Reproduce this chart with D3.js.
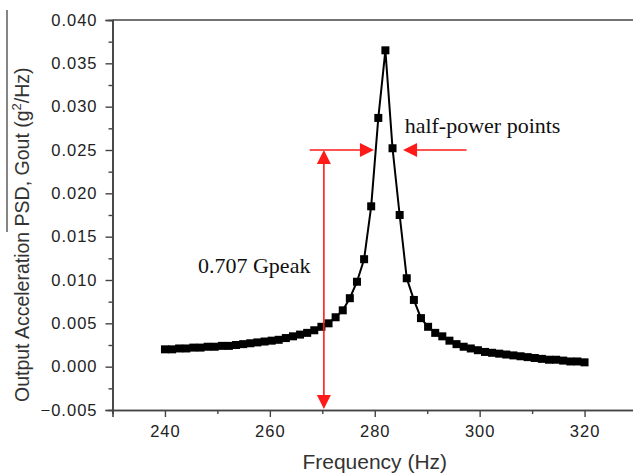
<!DOCTYPE html>
<html>
<head>
<meta charset="utf-8">
<script src="https://cdn.jsdelivr.net/npm/d3@7"></script>
<style>
  html,body{margin:0;padding:0;background:#fff;}
  svg{display:block;}
  .tick text{font-family:"Liberation Sans",Arial,sans-serif;}
</style>
</head>
<body>
<div id="chart"></div>
<script>
(() => {

  /* ---------- DATA ---------- */
  const FREQS = [
    240.00,241.36,242.71,244.07,245.42,246.78,248.14,249.49,250.85,252.20,
    253.56,254.92,256.27,257.63,258.98,260.34,261.69,263.05,264.41,265.76,
    267.12,268.47,269.83,271.19,272.54,273.90,275.25,276.61,277.97,279.32,
    280.68,282.03,283.39,284.75,286.10,287.46,288.81,290.17,291.53,292.88,
    294.24,295.59,296.95,298.31,299.66,301.02,302.37,303.73,305.08,306.44,
    307.80,309.15,310.51,311.86,313.22,314.58,315.93,317.29,318.64,320.00
  ];
  const GOUT = [
    0.0020,0.0020,0.0021,0.0021,0.0022,0.0022,0.0023,0.0023,0.0024,0.0024,
    0.0025,0.0026,0.0027,0.0028,0.0029,0.0030,0.0031,0.0033,0.0035,0.0037,
    0.0039,0.0042,0.0046,0.0050,0.0057,0.0065,0.0079,0.0098,0.0124,0.0185,
    0.0287,0.0365,0.0252,0.0175,0.0102,0.0077,0.0056,0.0046,0.0039,0.0035,
    0.0030,0.0026,0.0023,0.0021,0.0019,0.0017,0.0016,0.0015,0.0014,0.0013,
    0.0012,0.0011,0.0010,0.0009,0.0008,0.0008,0.0007,0.0006,0.0006,0.0005
  ];
  const X_TICKS = [240,260,280,300,320];
  const X_MINOR = [250,270,290,310];
  const Y_TICKS = [-0.005,0,0.005,0.010,0.015,0.020,0.025,0.030,0.035,0.040];
  const Y_MINOR = [-0.0025,0.0025,0.0075,0.0125,0.0175,0.0225,0.0275,0.0325,0.0375];

  // annotation anchors (data space)
  const HALF_LEVEL = 0.025;
  const REF_FREQ = 270.3;
  const LEFT_ARROW  = [267.6, 279.85];   // tail -> tip
  const RIGHT_ARROW = [297.5, 285.4];
  const PEAK_LABEL  = {f:246.3, v:0.0108, text:"0.707 Gpeak"};
  const HP_LABEL    = {f:285.7, v:0.0270, text:"half-power points"};

  /* ---------- LAYOUT ---------- */
  const W=633, H=475;
  const RED="#ff1a1a", AX="#444";

  const svg=d3.select("#chart").append("svg").attr("width",W).attr("height",H);

  const x=d3.scaleLinear().domain([230,330]).range([112.5,637]);
  const y=d3.scaleLinear().domain([-0.005,0.040]).range([410,20]);

  /* ---------- AXES ---------- */
  const fmt=d3.format(".3f");

  const gx=svg.append("g").attr("transform",`translate(0,${y(-0.005)})`);
  gx.call(d3.axisBottom(x).tickValues(X_TICKS).tickSize(7).tickPadding(8).tickFormat(d3.format("d")));
  svg.append("g").attr("transform",`translate(0,${y(-0.005)})`)
    .call(d3.axisBottom(x).tickValues(X_MINOR).tickSize(4).tickFormat(""));

  const gy=svg.append("g").attr("transform",`translate(${x(230)},0)`);
  gy.call(d3.axisLeft(y).tickValues(Y_TICKS).tickSize(7).tickPadding(8).tickFormat(fmt));
  svg.append("g").attr("transform",`translate(${x(230)},0)`)
    .call(d3.axisLeft(y).tickValues(Y_MINOR).tickSize(4).tickFormat(""));

  svg.selectAll(".domain").attr("stroke",AX).attr("stroke-width",1.6);
  svg.selectAll(".tick line").attr("stroke",AX).attr("stroke-width",1.4);
  svg.selectAll(".tick text").attr("fill","#222").style("font-size","16.5px")
     .style("letter-spacing","1px");

  // top frame line
  svg.append("line")
    .attr("x1",x(230)).attr("x2",W).attr("y1",y(0.040)).attr("y2",y(0.040))
    .attr("stroke",AX).attr("stroke-width",1.6);

  // axis titles
  svg.append("text")
    .attr("x",x(280)).attr("y",469).attr("text-anchor","middle")
    .attr("fill","#333").style("font-family","'Liberation Sans',Arial,sans-serif")
    .style("font-size","21px").text("Frequency (Hz)");

  const yl=svg.append("text")
    .attr("transform","translate(29,402) rotate(-90)").attr("text-anchor","start")
    .attr("fill","#333").style("font-family","'Liberation Sans',Arial,sans-serif")
    .style("font-size","19.5px");
  yl.append("tspan").text("Output Acceleration PSD, Gout (g");
  yl.append("tspan").attr("dy",-8).style("font-size","13px").text("2");
  yl.append("tspan").attr("dy",8).text("/Hz)");

  // stray overline next to the title
  svg.append("line").attr("x1",7).attr("x2",7).attr("y1",10).attr("y2",232)
    .attr("stroke","#333").attr("stroke-width",1.2);

  /* ---------- SERIES ---------- */
  const pts=FREQS.map((f,i)=>({f,v:GOUT[i]}));
  const line=d3.line().x(d=>x(d.f)).y(d=>y(d.v));

  svg.append("path").datum(pts)
    .attr("fill","none").attr("stroke","#000").attr("stroke-width",2)
    .attr("d",line);

  const S=8;
  svg.selectAll("rect.pt").data(pts).enter().append("rect").attr("class","pt")
    .attr("x",d=>x(d.f)-S/2).attr("y",d=>y(d.v)-S/2)
    .attr("width",S).attr("height",S).attr("fill","#000");

  /* ---------- ANNOTATIONS ---------- */
  const ann=svg.append("g");
  const AL=14, AW=7;   // arrowhead length / half width

  function hArrow([f0,f1]){
    const yy=y(HALF_LEVEL), x0=x(f0), x1=x(f1), dir=Math.sign(x1-x0);
    ann.append("line").attr("x1",x0).attr("x2",x1-dir*AL).attr("y1",yy).attr("y2",yy)
      .attr("stroke",RED).attr("stroke-width",1.6);
    ann.append("path").attr("fill",RED)
      .attr("d",`M${x1},${yy}L${x1-dir*AL},${yy-AW}L${x1-dir*AL},${yy+AW}Z`);
  }
  hArrow(LEFT_ARROW);
  hArrow(RIGHT_ARROW);

  const vx=x(REF_FREQ), vTop=y(HALF_LEVEL), vBot=y(-0.005)-1;
  ann.append("line").attr("x1",vx).attr("x2",vx).attr("y1",vTop+AL).attr("y2",vBot-AL)
    .attr("stroke",RED).attr("stroke-width",1.6);
  ann.append("path").attr("fill",RED)
    .attr("d",`M${vx},${vTop}L${vx-AW},${vTop+AL}L${vx+AW},${vTop+AL}Z`);
  ann.append("path").attr("fill",RED)
    .attr("d",`M${vx},${vBot}L${vx-AW},${vBot-AL}L${vx+AW},${vBot-AL}Z`);

  [PEAK_LABEL,HP_LABEL].forEach(l=>{
    svg.append("text").attr("x",x(l.f)).attr("y",y(l.v))
      .attr("fill","#111").style("font-family","'Liberation Serif','Times New Roman',serif")
      .style("font-size","22px").text(l.text);
  });

})();
</script>
</body>
</html>
